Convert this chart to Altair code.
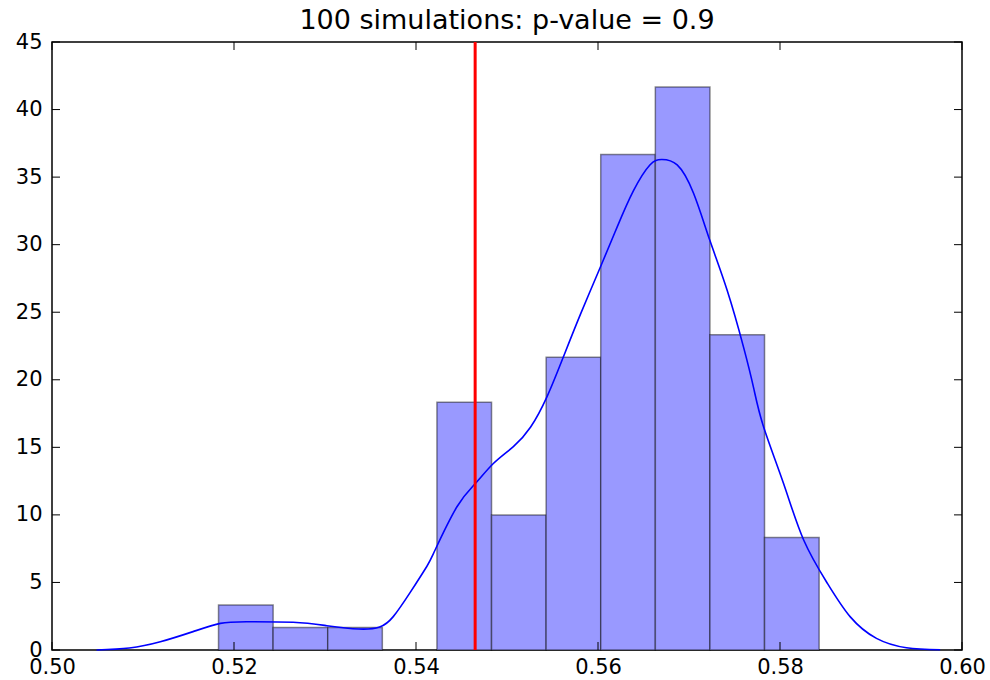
import altair as alt
import pandas as pd

# Histogram (density) bins
bin_edges = [0.5183, 0.5243, 0.5303, 0.5363, 0.5423, 0.5483, 0.5543,
             0.5603, 0.5663, 0.5723, 0.5783, 0.5843]
bin_density = [3.33, 1.67, 1.67, 0.0, 18.33, 10.0, 21.67, 36.67, 41.67, 23.33, 8.33]

# KDE curve
kde_x = [0.5049, 0.5085, 0.5119, 0.5155, 0.5185, 0.5214, 0.5265, 0.5302, 0.5337,
         0.5360, 0.5375, 0.5394, 0.5412, 0.5421, 0.5445, 0.5465, 0.5485, 0.5507,
         0.5526, 0.5544, 0.5562, 0.5581, 0.5603, 0.5621, 0.5639, 0.5657, 0.5670,
         0.5687, 0.5705, 0.5723, 0.5742, 0.5760, 0.5771, 0.5782, 0.5804, 0.5826,
         0.5852, 0.5877, 0.5906, 0.5939, 0.5976]
kde_y = [0.0, 0.15, 0.61, 1.36, 1.97, 2.09, 2.05, 1.8, 1.55,
         1.7, 2.47, 4.3, 6.2, 7.4, 10.6, 12.3, 13.8, 15.05,
         16.5, 18.75, 21.7, 24.9, 28.4, 31.3, 34.0, 35.9, 36.3,
         35.9, 33.8, 30.3, 26.6, 22.4, 19.4, 16.5, 12.3, 8.14,
         4.94, 2.47, 0.86, 0.17, 0.02]

observed = [0.5465]
title_text = "100 simulations: p-value = 0.9"

x_ticks = [0.50, 0.52, 0.54, 0.56, 0.58, 0.60]
y_ticks = [0, 5, 10, 15, 20, 25, 30, 35, 40, 45]

W, H = 910, 608
FONT = "DejaVu Sans"

bars = pd.DataFrame({
    "left": bin_edges[:-1],
    "right": bin_edges[1:],
    "density": bin_density,
})
bars = bars[bars["density"] > 0]
kde = pd.DataFrame({"x": kde_x, "y": kde_y})
obs = pd.DataFrame({"x": observed})
xt = pd.DataFrame({"v": x_ticks})
yt = pd.DataFrame({"v": y_ticks})

xscale = alt.Scale(domain=[0.50, 0.60], nice=False, zero=False)
yscale = alt.Scale(domain=[0, 45], nice=False)

xaxis = alt.Axis(values=x_ticks, format=".2f", ticks=False, domain=False, grid=False,
                 labelFont=FONT, labelFontSize=21, labelColor="black", labelPadding=6,
                 labelFlush=False, labelOverlap=False, labelBound=False, title=None)
yaxis = alt.Axis(values=y_ticks, format="d", ticks=False, domain=False, grid=False,
                 labelFont=FONT, labelFontSize=21, labelColor="black", labelPadding=10,
                 labelFlush=False, labelOverlap=False, labelBound=False, title=None)

hist = alt.Chart(bars).mark_rect(
    fill="#9999ff", stroke="black", strokeOpacity=0.45, strokeWidth=1.5
).encode(
    x=alt.X("left:Q", scale=xscale, axis=xaxis),
    x2="right:Q",
    y=alt.Y("density:Q", scale=yscale, axis=yaxis),
    y2=alt.datum(0),
)

line = alt.Chart(kde).mark_line(color="#0000ff", strokeWidth=1.6,
                                interpolate="natural").encode(
    x=alt.X("x:Q", scale=xscale, axis=xaxis),
    y=alt.Y("y:Q", scale=yscale, axis=yaxis),
)

red = alt.Chart(obs).mark_rule(color="#ff0000", strokeWidth=3).encode(
    x=alt.X("x:Q", scale=xscale, axis=xaxis),
)

tick_style = dict(color="black", strokeWidth=1)
t_bottom = alt.Chart(xt).mark_rule(**tick_style).encode(
    x=alt.X("v:Q", scale=xscale, axis=xaxis), y=alt.value(H), y2=alt.value(H - 8))
t_top = alt.Chart(xt).mark_rule(**tick_style).encode(
    x=alt.X("v:Q", scale=xscale, axis=xaxis), y=alt.value(0), y2=alt.value(8))
t_left = alt.Chart(yt).mark_rule(**tick_style).encode(
    y=alt.Y("v:Q", scale=yscale, axis=yaxis), x=alt.value(0), x2=alt.value(8))
t_right = alt.Chart(yt).mark_rule(**tick_style).encode(
    y=alt.Y("v:Q", scale=yscale, axis=yaxis), x=alt.value(W), x2=alt.value(W - 8))

chart = alt.layer(hist, line, red, t_bottom, t_top, t_left, t_right).properties(
    width=W,
    height=H,
    title=alt.TitleParams(title_text, font=FONT, fontSize=27, fontWeight="normal",
                          color="black", offset=9, anchor="middle", frame="group",
                          baseline="alphabetic", dy=34),
    autosize=alt.AutoSizeParams(type="none"),
    padding={"left": 52, "top": 42, "right": 28, "bottom": 30},
).configure(
    background="white",
    view=alt.ViewConfig(stroke="black", strokeWidth=1.5),
)

chart.save("out.html", embed_options={"renderer": "svg", "actions": False})
